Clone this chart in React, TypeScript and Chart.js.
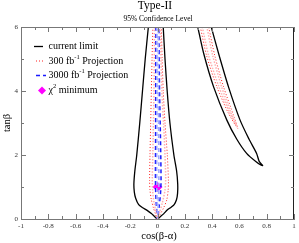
import React, { useEffect, useRef } from "react";
import { Chart, registerables } from "chart.js";

Chart.register(...registerables);

const FONT = "'Liberation Serif', 'DejaVu Serif', 'Times New Roman', serif";

// tick values
const xTickValues = [-1, -0.8, -0.6, -0.4, -0.2, 0, 0.2, 0.4, 0.6, 0.8, 1];
const xMinorValues = [-0.9, -0.7, -0.5, -0.3, -0.1, 0.1, 0.3, 0.5, 0.7, 0.9];
const yTickValues = [0, 2, 4, 6];
const yMinorValues = [1, 3, 5];

// current limit (black solid)
const currentCentral: [number, number][] = [
  [-0.067, 6], [-0.09, 5], [-0.11, 4], [-0.13, 3], [-0.152, 2], [-0.166, 1.5], [-0.173, 1.1],
  [-0.17, 0.85], [-0.16, 0.65], [-0.138, 0.45], [-0.108, 0.35], [-0.076, 0.27], [-0.045, 0.17],
  [-0.022, 0.08], [0, 0], [0.02, 0.07], [0.045, 0.16], [0.071, 0.28], [0.1, 0.37], [0.122, 0.45],
  [0.139, 0.6], [0.147, 0.8], [0.148, 1.1], [0.14, 1.5], [0.12, 2], [0.091, 3], [0.071, 4],
  [0.055, 5], [0.042, 6],
];
const currentRight: [number, number][] = [
  [0.295, 6], [0.338, 5.18], [0.411, 4.13], [0.508, 3.09], [0.58, 2.5], [0.653, 2.05], [0.72, 1.8],
  [0.77, 1.67], [0.745, 1.8], [0.726, 2.05], [0.67, 2.5], [0.605, 3.09], [0.52, 4.13], [0.447, 5.18],
  [0.394, 6],
];

// 300 fb^-1 projection (red dotted) and lighter companion
const p300Central: [number, number][] = [
  [-0.034, 6], [-0.04, 5], [-0.045, 4], [-0.05, 3], [-0.055, 2], [-0.058, 1.2], [-0.055, 0.9],
  [-0.045, 0.6], [-0.03, 0.35], [-0.014, 0.15], [0, 0], [0.02, 0.15], [0.045, 0.35], [0.068, 0.6],
  [0.078, 0.9], [0.08, 1.2], [0.072, 2], [0.055, 3], [0.042, 4], [0.034, 5], [0.028, 6],
];
const p300Right: [number, number][] = [
  [0.314, 6], [0.36, 5.1], [0.435, 4.13], [0.52, 3.3], [0.588, 2.83], [0.56, 3.2], [0.484, 4.13],
  [0.42, 5.1], [0.375, 6],
];
const p300CentralB: [number, number][] = [
  [-0.022, 6], [-0.026, 4], [-0.032, 2.5], [-0.038, 1.3], [-0.036, 0.9], [-0.025, 0.5], [-0.01, 0.2],
  [0, 0], [0.015, 0.2], [0.035, 0.5], [0.055, 0.9], [0.06, 1.3], [0.05, 2.5], [0.032, 4], [0.02, 6],
];
const p300RightB: [number, number][] = [
  [0.328, 6], [0.375, 5.1], [0.45, 4.13], [0.525, 3.35], [0.578, 2.92], [0.535, 3.35], [0.47, 4.13],
  [0.405, 5.1], [0.362, 6],
];

// 3000 fb^-1 projection (blue dashed) and lighter companion
const p3000Central: [number, number][] = [
  [-0.012, 6], [-0.013, 4], [-0.014, 2.5], [-0.015, 1.3], [-0.013, 0.8], [-0.008, 0.4], [0, 0],
  [0.012, 0.4], [0.022, 0.8], [0.026, 1.2], [0.022, 2.5], [0.015, 4], [0.01, 6],
];
const p3000CentralB: [number, number][] = [
  [-0.004, 6], [-0.005, 3], [-0.006, 1.2], [-0.003, 0.5], [0, 0], [0.006, 0.5], [0.01, 1.2],
  [0.008, 3], [0.005, 6],
];

// chi^2 minimum
const chi2Min: [number, number][] = [[0, 1]];

const toPts = (a: [number, number][]) => a.map(([x, y]) => ({ x, y }));

function drawRich(ctx: CanvasRenderingContext2D, parts: { t: string; sup?: boolean }[], x: number, y: number) {
  let cx = x;
  for (const p of parts) {
    ctx.font = p.sup ? `6.5px ${FONT}` : `10px ${FONT}`;
    ctx.fillText(p.t, cx, p.sup ? y - 4 : y);
    cx += ctx.measureText(p.t).width;
  }
}

const decor = {
  id: "decor",
  afterDraw(chart: any) {
    const ctx: CanvasRenderingContext2D = chart.ctx;
    const { left, right, top, bottom } = chart.chartArea;
    const xs = chart.scales.x;
    const ys = chart.scales.y;
    ctx.save();
    // top and right borders
    ctx.lineWidth = 1;
    ctx.strokeStyle = "#777";
    ctx.beginPath();
    ctx.moveTo(left, top + 0.5);
    ctx.lineTo(right, top + 0.5);
    ctx.stroke();
    ctx.strokeStyle = "#222";
    ctx.beginPath();
    ctx.moveTo(right - 0.5, top);
    ctx.lineTo(right - 0.5, bottom);
    ctx.stroke();
    // inward ticks
    ctx.strokeStyle = "#777";
    const xt = (v: number, len: number) => {
      const px = Math.round(xs.getPixelForValue(v)) + 0.5;
      ctx.beginPath();
      ctx.moveTo(px, bottom);
      ctx.lineTo(px, bottom - len);
      ctx.moveTo(px, top);
      ctx.lineTo(px, top + len);
      ctx.stroke();
    };
    const yt = (v: number, len: number) => {
      const py = Math.round(ys.getPixelForValue(v)) + 0.5;
      ctx.beginPath();
      ctx.moveTo(left, py);
      ctx.lineTo(left + len, py);
      ctx.moveTo(right, py);
      ctx.lineTo(right - len, py);
      ctx.stroke();
    };
    xTickValues.forEach((v) => xt(v, 5));
    xMinorValues.forEach((v) => xt(v, 3));
    yTickValues.forEach((v) => yt(v, 5));
    yMinorValues.forEach((v) => yt(v, 3));

    // titles
    ctx.fillStyle = "#000";
    ctx.textAlign = "center";
    ctx.textBaseline = "alphabetic";
    ctx.font = `11.5px ${FONT}`;
    ctx.fillText("Type-II", 155, 9);
    ctx.font = `7.5px ${FONT}`;
    ctx.fillText("95% Confidence Level", 158, 20.5);
    // axis titles
    ctx.font = `10.5px ${FONT}`;
    ctx.textBaseline = "middle";
    ctx.fillText("cos(β-α)", 159, 236.5);
    ctx.save();
    ctx.translate(7, 123);
    ctx.rotate(-Math.PI / 2);
    ctx.fillText("tanβ", 0, 0);
    ctx.restore();

    // legend
    ctx.textAlign = "left";
    ctx.textBaseline = "middle";
    const sx0 = 34, sx1 = 44, tx = 48.5;
    const rows = [46.5, 61, 75.5, 90.5];
    ctx.lineWidth = 1.3;
    ctx.strokeStyle = "#000";
    ctx.setLineDash([]);
    ctx.beginPath(); ctx.moveTo(sx0, rows[0]); ctx.lineTo(sx1 - 1, rows[0]); ctx.stroke();
    ctx.strokeStyle = "#ff2020";
    ctx.lineWidth = 1;
    ctx.setLineDash([1, 2]);
    ctx.beginPath(); ctx.moveTo(sx0 + 2, rows[1]); ctx.lineTo(sx1 + 1, rows[1]); ctx.stroke();
    ctx.strokeStyle = "#1a1aff";
    ctx.lineWidth = 1.5;
    ctx.setLineDash([4, 3]);
    ctx.beginPath(); ctx.moveTo(sx0 + 2, rows[2]); ctx.lineTo(sx1 + 2, rows[2]); ctx.stroke();
    ctx.setLineDash([]);
    ctx.fillStyle = "#ff00ff";
    const dx = 42, dy = rows[3], r = 4;
    ctx.beginPath();
    ctx.moveTo(dx, dy - r); ctx.lineTo(dx + r, dy); ctx.lineTo(dx, dy + r); ctx.lineTo(dx - r, dy);
    ctx.closePath(); ctx.fill();
    ctx.fillStyle = "#000";
    drawRich(ctx, [{ t: "current limit" }], tx, rows[0]);
    drawRich(ctx, [{ t: "300 fb" }, { t: "-1", sup: true }, { t: " Projection" }], tx, rows[1]);
    drawRich(ctx, [{ t: "3000 fb" }, { t: "-1", sup: true }, { t: " Projection" }], tx, rows[2]);
    drawRich(ctx, [{ t: "χ" }, { t: "2", sup: true }, { t: " minimum" }], tx, rows[3]);
    ctx.restore();
  },
};

export default function App() {
  const ref = useRef<HTMLCanvasElement | null>(null);
  useEffect(() => {
    document.body.style.margin = "0";
    if (!ref.current) return;
    const line = (data: [number, number][], color: string, width: number, dash: number[]) => ({
      data: toPts(data),
      showLine: true,
      borderColor: color,
      borderWidth: width,
      borderDash: dash,
      pointRadius: 0,
      tension: 0.25,
      fill: false,
    });
    const chart = new Chart(ref.current, {
      type: "scatter",
      data: {
        datasets: [
          line(p300CentralB, "#ffb0b0", 1.5, [1.5, 1.5]),
          line(p300RightB, "#ffb0b0", 1.5, [1.5, 1.5]),
          line(p3000CentralB, "#a0a8ff", 1.6, [4, 3]),
          line(p300Central, "#ff2020", 1, [1, 2]),
          line(p300Right, "#ff2020", 1, [1, 2]),
          line(p3000Central, "#1a1aff", 1.5, [4, 3]),
          line(currentCentral, "#000000", 1.3, []),
          line(currentRight, "#000000", 1.3, []),
          {
            data: toPts(chi2Min),
            showLine: false,
            pointStyle: "rectRot",
            pointRadius: 5,
            backgroundColor: "#ff00ff",
            borderColor: "#ff00ff",
            borderWidth: 0,
          } as any,
        ],
      },
      options: {
        animation: false,
        responsive: true,
        maintainAspectRatio: false,
        layout: { padding: { top: 27, right: 3, left: 0, bottom: 0 } },
        plugins: { legend: { display: false }, title: { display: false }, tooltip: { enabled: false } },
        scales: {
          x: {
            type: "linear",
            min: -1,
            max: 1,
            grid: { display: false, drawTicks: false, tickLength: 0 },
            border: { display: true, color: "#777" },
            afterBuildTicks: (s: any) => {
              s.ticks = xTickValues.map((v) => ({ value: v }));
            },
            afterFit: (s: any) => {
              s.height = 24;
            },
            ticks: {
              padding: 3,
              maxRotation: 0,
              autoSkip: false,
              color: "#333",
              font: { family: FONT, size: 7 },
              callback: (v: any) => String(Math.round(Number(v) * 10) / 10),
            },
          },
          y: {
            type: "linear",
            min: 0,
            max: 6,
            grid: { display: false, drawTicks: false, tickLength: 0 },
            border: { display: true, color: "#777" },
            afterBuildTicks: (s: any) => {
              s.ticks = yTickValues.map((v) => ({ value: v }));
            },
            afterFit: (s: any) => {
              s.width = 21;
            },
            ticks: {
              padding: 3,
              autoSkip: false,
              color: "#333",
              font: { family: FONT, size: 7 },
              callback: (v: any) => String(v),
            },
          },
        },
      },
      plugins: [decor],
    });
    return () => chart.destroy();
  }, []);
  return (
    <div style={{ position: "relative", width: 299, height: 243 }}>
      <canvas ref={ref} />
    </div>
  );
}
